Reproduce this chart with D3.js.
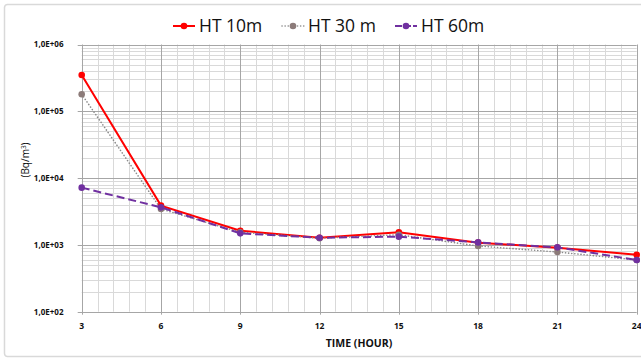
<!DOCTYPE html>
<html>
<head>
<meta charset="utf-8">
<script src="https://cdn.jsdelivr.net/npm/d3@7"></script>
<style>
  body { margin: 0; background: #fff; }
  svg { display: block; font-family: "Open Sans", "Liberation Sans", sans-serif; }
</style>
</head>
<body>
<svg id="chart"></svg>
<script>
// data
const hours = [3, 6, 9, 12, 15, 18, 21, 24];
const ht10 = [350000, 3870, 1630, 1280, 1540, 1080, 910, 713];
const ht30 = [180000, 3450, 1545, 1260, 1420, 962, 783, 594];
const ht60 = [7200, 3650, 1490, 1280, 1330, 1090, 920, 594];
const seriesNames = ["HT 10m", "HT 30 m", "HT 60m"];
const yTicks = [1e2, 1e3, 1e4, 1e5, 1e6];

const width = 641, height = 358;
const margin = { top: 44.5, right: 4.3, bottom: 46.3, left: 81.7 };

const svg = d3.select("#chart").attr("width", width).attr("height", height);

// chart frame
svg.append("rect")
  .attr("x", 4.5).attr("y", 4.5)
  .attr("width", width + 10).attr("height", height - 6)
  .attr("rx", 3)
  .attr("fill", "none").attr("stroke", "#d9d9d9").attr("stroke-width", 1.5);

const x = d3.scaleLinear().domain([3, 24]).range([margin.left, width - margin.right]);
const y = d3.scaleLog().domain([1e2, 1e6]).range([height - margin.bottom, margin.top]);

const grid = svg.append("g");

// minor vertical grid
grid.selectAll(".vminor")
  .data(d3.range(3, 24.001, 0.6).filter(v => Math.abs(v / 3 - Math.round(v / 3)) > 0.01))
  .join("line")
  .attr("x1", d => Math.round(x(d)) + 0.5).attr("x2", d => Math.round(x(d)) + 0.5)
  .attr("y1", y(1e6)).attr("y2", y(1e2))
  .attr("stroke", "#d9d9d9");

// minor horizontal grid
const minorY = [];
for (let e = 2; e < 6; e++) for (let k = 2; k <= 9; k++) minorY.push(k * Math.pow(10, e));
grid.selectAll(".hminor").data(minorY).join("line")
  .attr("x1", x(3)).attr("x2", x(24))
  .attr("y1", d => Math.round(y(d)) + 0.5).attr("y2", d => Math.round(y(d)) + 0.5)
  .attr("stroke", "#d9d9d9");

// major grid
grid.selectAll(".vmajor").data(hours).join("line")
  .attr("x1", d => Math.round(x(d)) + 0.5).attr("x2", d => Math.round(x(d)) + 0.5)
  .attr("y1", y(1e6)).attr("y2", y(1e2) + 3)
  .attr("stroke", "#a6a6a6");
grid.selectAll(".hmajor").data(yTicks).join("line")
  .attr("x1", x(3) - 4).attr("x2", x(24))
  .attr("y1", d => Math.round(y(d)) + 0.5).attr("y2", d => Math.round(y(d)) + 0.5)
  .attr("stroke", "#a6a6a6");

// axes labels
const fmt = d => "1,0E+" + String(Math.round(Math.log10(d))).padStart(2, "0");
svg.append("g").selectAll("text").data(yTicks).join("text")
  .attr("x", 63.5).attr("y", d => y(d)).attr("dy", "0.35em")
  .attr("text-anchor", "end")
  .attr("font-size", 8).attr("font-weight", "bold").attr("fill", "#111")
  .text(fmt);

svg.append("g").selectAll("text").data(hours).join("text")
  .attr("x", d => x(d)).attr("y", 326).attr("dy", "0.35em")
  .attr("text-anchor", "middle")
  .attr("font-size", 8.5).attr("font-weight", "bold").attr("fill", "#111")
  .text(d => d);

svg.append("text")
  .attr("x", 359).attr("y", 343).attr("dy", "0.35em")
  .attr("text-anchor", "middle")
  .attr("font-size", 10.5).attr("font-weight", "bold").attr("fill", "#111")
  .text("TIME (HOUR)");

svg.append("text")
  .attr("transform", "translate(25,160) rotate(-90)")
  .attr("dy", "0.35em")
  .attr("text-anchor", "middle")
  .attr("font-size", 10).attr("fill", "#111")
  .html("(Bq/m<tspan dy='-3' font-size='6.5'>3</tspan><tspan dy='3'>)</tspan>");

// series
const series = [
  { name: seriesNames[0], values: ht10, color: "#ff0000", marker: "#ff0000", width: 2, dash: null },
  { name: seriesNames[1], values: ht30, color: "#8a8a8a", marker: "#8c7b79", width: 1.6, dash: "0.1 3" },
  { name: seriesNames[2], values: ht60, color: "#7030a0", marker: "#7030a0", width: 2, dash: "8 4" }
];

const line = d3.line().x((d, i) => x(hours[i])).y(d => y(d));

series.forEach(s => {
  const g = svg.append("g");
  g.append("path")
    .attr("d", line(s.values))
    .attr("fill", "none")
    .attr("stroke", s.color)
    .attr("stroke-width", s.width)
    .attr("stroke-linecap", s.dash && s.dash.startsWith("0.1") ? "round" : "butt")
    .attr("stroke-dasharray", s.dash);
  g.selectAll("circle").data(s.values).join("circle")
    .attr("cx", (d, i) => x(hours[i])).attr("cy", d => y(d))
    .attr("r", 3.3)
    .attr("fill", s.marker);
});

// legend
const legendX = [173, 282, 395];
const legend = svg.append("g");
series.forEach((s, i) => {
  const g = legend.append("g").attr("transform", `translate(${legendX[i]},26)`);
  g.append("line")
    .attr("x1", 0).attr("x2", 22)
    .attr("stroke", s.color).attr("stroke-width", s.width)
    .attr("stroke-linecap", s.dash && s.dash.startsWith("0.1") ? "round" : "butt")
    .attr("stroke-dasharray", s.dash ? (i === 2 ? "7 2" : s.dash) : null);
  g.append("circle").attr("cx", 11).attr("r", 3.3).attr("fill", s.marker);
  g.append("text")
    .attr("x", 26).attr("dy", "0.35em")
    .attr("font-size", 17.5).attr("fill", "#111")
    .text(s.name);
});
</script>
</body>
</html>
